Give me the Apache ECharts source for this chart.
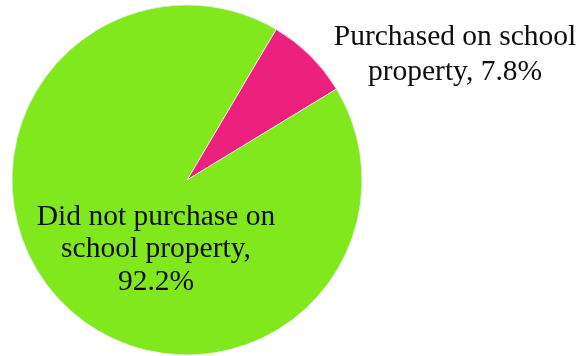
<!DOCTYPE html>
<html>
<head>
<meta charset="utf-8">
<script src="https://cdn.jsdelivr.net/npm/echarts@6/dist/echarts.min.js"></script>
<style>
  html, body { margin: 0; padding: 0; background: #ffffff; }
  #chart { width: 580px; height: 356px; }
</style>
</head>
<body>
<div id="chart"></div>
<script>
// Where students bought the item: on school property or elsewhere
const categories = ['Purchased on school\nproperty', 'Did not purchase on\nschool property,'];
const shares = [7.8, 92.2];
const sliceColors = ['#EC217D', '#82E81E'];

const chart = echarts.init(document.getElementById('chart'), null, { renderer: 'canvas' });

// Label anchor points (block centres) and line heights for each slice
const labelSpots = [
  { x: 455, y: 55, lineHeight: 35 },
  { x: 156, y: 249.5, lineHeight: 32.3 }
];

function labelText(name, value) {
  const pct = value.toFixed(1) + '%';
  return name.endsWith(',') ? name + '\n' + pct : name + ', ' + pct;
}

chart.setOption({
  animation: false,
  backgroundColor: '#ffffff',
  series: [{
    type: 'pie',
    center: [187, 180],
    radius: 175,
    startAngle: 59.4,
    clockwise: true,
    avoidLabelOverlap: false,
    data: categories.map((name, i) => ({
      name: name,
      value: shares[i],
      itemStyle: { color: sliceColors[i] },
      label: { lineHeight: labelSpots[i].lineHeight }
    })),
    itemStyle: {
      borderColor: '#ececec',
      borderWidth: 0.8
    },
    label: {
      show: true,
      position: 'outside',
      fontFamily: '"Liberation Serif", serif',
      fontSize: 29.5,
      color: '#0d0d0d',
      align: 'center',
      formatter: function (p) {
        return labelText(p.name, p.value);
      }
    },
    labelLine: { show: false },
    labelLayout: function (params) {
      const spot = labelSpots[params.dataIndex];
      return { x: spot.x, y: spot.y, align: 'center', verticalAlign: 'middle' };
    },
    emphasis: { disabled: true }
  }]
});
</script>
</body>
</html>
